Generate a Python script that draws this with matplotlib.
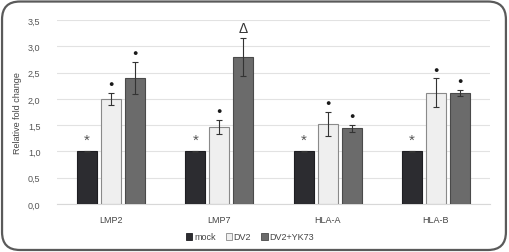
import matplotlib.pyplot as plt
import numpy as np
from matplotlib.patches import FancyBboxPatch, Patch

genes = ["LMP2", "LMP7", "HLA-A", "HLA-B"]
series = ["mock", "DV2", "DV2+YK73"]
mock = [1.0, 1.0, 1.0, 1.0]
mock_err = [0.01, 0.01, 0.01, 0.01]
dv2 = [2.0, 1.47, 1.52, 2.12]
dv2_err = [0.11, 0.13, 0.23, 0.27]
yk73 = [2.40, 2.79, 1.44, 2.11]
yk73_err = [0.31, 0.36, 0.07, 0.06]
mock_sig = ["*", "*", "*", "*"]
dv2_sig = ["\u25cf", "\u25cf", "\u25cf", "\u25cf"]
yk73_sig = ["\u25cf", "\u0394", "\u25cf", "\u25cf"]
yticks = [0.0, 0.5, 1.0, 1.5, 2.0, 2.5, 3.0, 3.5]

plt.rcParams['font.family'] = ['Liberation Sans', 'DejaVu Sans']

fig = plt.figure(figsize=(5.1, 2.53), dpi=100)
ax = fig.add_axes([57 / 510, 48 / 253, 433 / 510, 184 / 253])

# rounded frame around the whole figure
frame = FancyBboxPatch((0.004, 0.008), 0.988, 0.982, boxstyle="round,pad=0,rounding_size=0.035",
                       transform=fig.transFigure, fill=False, edgecolor="#5a5a5a", linewidth=1.6,
                       mutation_aspect=510 / 253)
fig.patches.append(frame)

x = np.arange(len(genes))
w = 0.185
off = 0.222
fills = ["#2c2c30", "#efefef", "#6b6b6b"]
edges = ["#1e1e22", "#8a8a8a", "#4a4a4a"]
vals = [mock, dv2, yk73]
errs = [mock_err, dv2_err, yk73_err]
sigs = [mock_sig, dv2_sig, yk73_sig]

for i in range(3):
    pos = x + (i - 1) * off
    ax.bar(pos, vals[i], w, color=fills[i], edgecolor=edges[i], linewidth=0.8, zorder=3)
    ax.errorbar(pos, vals[i], yerr=errs[i], fmt="none", ecolor="#333333",
                elinewidth=0.8, capsize=2.5, capthick=0.8, zorder=4)
    for j in range(len(genes)):
        top = vals[i][j] + errs[i][j]
        s = sigs[i][j]
        if s == "*":
            ax.text(pos[j], top + 0.08, s, ha="center", va="bottom", fontsize=11, color="#555555")
        elif s == "\u0394":
            ax.text(pos[j], top + 0.06, s, ha="center", va="bottom", fontsize=10, color="#333333")
        else:
            ax.text(pos[j], top + 0.09, s, ha="center", va="bottom", fontsize=6.5, color="#1a1a1a")

ax.set_xlim(-0.5, len(genes) - 0.5)
ax.set_ylim(0, 3.5)
ax.set_yticks(yticks)
ax.set_yticklabels([("%.1f" % t).replace(".", ",") for t in yticks], fontsize=6.5, color="#555555")
ax.set_xticks(x)
ax.set_xticklabels(genes, fontsize=6.5, color="#444444")
ax.tick_params(length=0, pad=12)
ax.tick_params(axis="x", pad=8)
ax.grid(axis="y", color="#e2e2e2", linewidth=0.8, zorder=0)
ax.set_axisbelow(True)
for s in ["top", "right", "left"]:
    ax.spines[s].set_visible(False)
ax.spines["bottom"].set_color("#d8d8d8")
ax.set_ylabel("Relative fold change", fontsize=6.5, color="#444444")
ax.yaxis.set_label_coords(-35 / 433, 0.5)

handles = [Patch(facecolor=fills[i], edgecolor=edges[i], linewidth=0.6) for i in range(3)]
fig.legend(handles, series, loc="center", bbox_to_anchor=(250 / 510, 1 - 238 / 253), ncol=3,
           frameon=False, fontsize=6.5, handlelength=0.7, handleheight=0.7, handletextpad=0.2,
           columnspacing=1.1, labelcolor="#444444")

fig.savefig("out.png", dpi=100)
